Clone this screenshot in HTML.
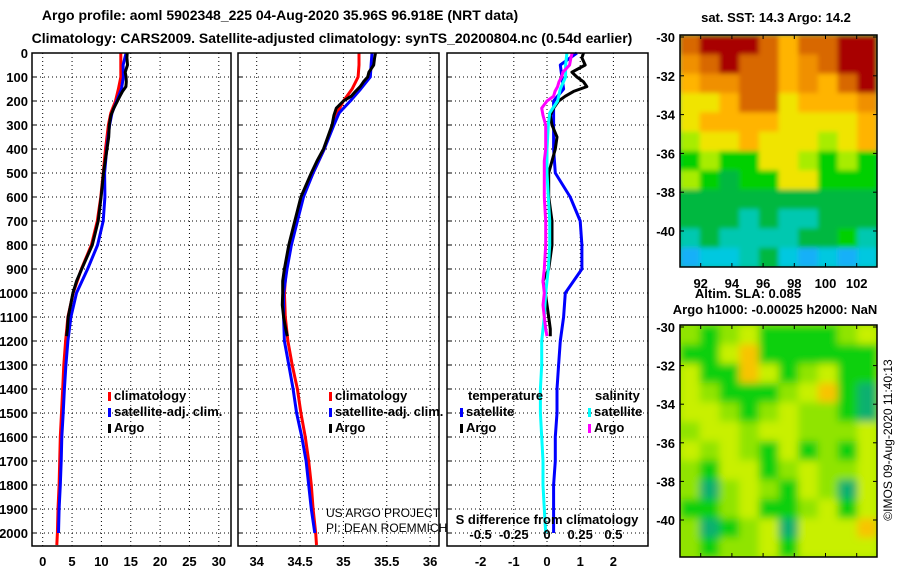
<!DOCTYPE html>
<html><head><meta charset="utf-8"><style>
html,body{margin:0;padding:0;background:#fff;}
svg{display:block;font-family:"Liberation Sans",sans-serif;}
.t{font-weight:bold;font-size:13px;}
.n{font-weight:normal;font-size:12px;}
</style></head><body>
<svg id="c" width="900" height="580" xmlns="http://www.w3.org/2000/svg"></svg>
<script>
// ---------- data ----------
const depths = [0,50,100,150,200,250,300,400,500,600,700,800,900,1000,1100,1200,1300,1400,1500,1600,1700,1800,1900,2000,2050];
const climT = [13.3,13.3,13.3,12.9,12.4,11.6,11.2,10.7,10.3,9.9,9.3,8.3,6.6,5.2,4.3,3.9,3.6,3.4,3.2,3.0,2.9,2.8,2.6,2.5,2.4];
const climS = [35.18,35.18,35.17,35.1,35.0,34.93,34.88,34.78,34.65,34.53,34.45,34.38,34.34,34.32,34.33,34.36,34.41,34.47,34.51,34.56,34.6,34.63,34.65,34.68,34.69];
const satTdiff = [0.9,0.4,0.45,0.5,0.2,0.2,0.2,0.2,0.25,0.7,1.0,1.05,1.05,0.55,0.5,0.4,0.35,0.3,0.3,0.25,0.25,0.2,0.2,0.2];
const satSdiff = [0.15,0.14,0.14,0.1,0.08,0.02,0.01,0.0,0.0,0.01,0.02,0.02,0.01,-0.01,-0.02,-0.04,-0.04,-0.05,-0.05,-0.04,-0.03,-0.03,-0.02,-0.01];
const argoDepths = [0,20,50,80,100,120,140,160,180,200,230,260,300,350,400,450,500,600,700,800,900,950,1000,1050,1100,1150,1180];
const argoTdiff = [1.1,1.05,1.15,0.75,0.9,1.1,1.2,0.8,0.55,0.35,0.2,0.1,0.15,0.3,0.25,0.15,0.05,0.05,0.15,0.15,0.05,-0.12,-0.05,0.0,0.05,0.1,0.1];
const argoSdiff = [0.19,0.18,0.17,0.12,0.11,0.09,0.08,0.06,0.05,0.0,-0.04,-0.03,-0.01,-0.01,-0.01,-0.02,-0.02,-0.02,-0.01,-0.01,-0.02,-0.03,-0.02,-0.03,-0.02,-0.01,0.0];
const depthTicks = [0,100,200,300,400,500,600,700,800,900,1000,1100,1200,1300,1400,1500,1600,1700,1800,1900,2000];
const tTicks = [0,5,10,15,20,25,30];
const sTicks = [34,34.5,35,35.5,36];
const dTTicks = [-2,-1,0,1,2];
const dSTicks = [-0.5,-0.25,0,0.25,0.5];
const latTicks = [-30,-32,-34,-36,-38,-40];
const lonTicks = [92,94,96,98,100,102];

// ---------- scales ----------
const yD = d => 53 + d*0.24;
const xT = t => 42.7 + t*5.87;
const xS = s => 256.7 + (s-34)*86.7;
const xdT = v => 547 + v*33.2;
const xdS = v => 547 + v*132.8;
const P = [{x0:32,x1:231},{x0:238,x1:439},{x0:447,x1:648}];
const TOP=53, BOT=546;

const svg = document.getElementById('c');
const NS='http://www.w3.org/2000/svg';
function mk(tag, attrs, parent){const e=document.createElementNS(NS,tag);for(const k in attrs)e.setAttribute(k,attrs[k]);(parent||svg).appendChild(e);return e;}
function txt(x,y,s,anchor,cls,parent,extra){const e=mk('text',Object.assign({x:x,y:y,'text-anchor':anchor||'start',class:cls||'t'},extra||{}),parent);e.textContent=s;return e;}
function interp(arrD,arrV,d){for(let i=0;i<arrD.length-1;i++){if(d>=arrD[i]&&d<=arrD[i+1]){const f=(d-arrD[i])/(arrD[i+1]-arrD[i]);return arrV[i]+f*(arrV[i+1]-arrV[i]);}}return arrV[arrV.length-1];}

let e;
e=txt(280,20,'Argo profile: aoml 5902348_225 04-Aug-2020 35.96S 96.918E (NRT data)','middle','t');


e.setAttribute('style','font-size:14px');
e=txt(332,43,'Climatology: CARS2009. Satellite-adjusted climatology: synTS_20200804.nc (0.54d earlier)','middle','t');


e.setAttribute('style','font-size:14px');

P.forEach((p,i)=>{
  const g=mk('g',{});
  
  
  depthTicks.forEach(d=>{
    mk('line',{x1:p.x0,x2:p.x1,y1:yD(d),y2:yD(d),stroke:'#000','stroke-width':1,'stroke-dasharray':'1,3'},g);
    mk('line',{x1:p.x0,x2:p.x0+5,y1:yD(d),y2:yD(d),stroke:'#000','stroke-width':1},g);
  });
  const vt = i===0?tTicks.map(xT):i===1?sTicks.map(xS):dTTicks.map(xdT);
  vt.forEach(x=>{mk('line',{x1:x,x2:x,y1:TOP,y2:BOT,stroke:'#000','stroke-width':1,'stroke-dasharray':'1,3'},g);});
});
depthTicks.forEach(d=>{
  const t=txt(28,yD(d)+5,String(d),'end','t');
  
  
});
tTicks.forEach(v=>{const t=txt(xT(v),566,String(v),'middle','t');});
sTicks.forEach(v=>{const t=txt(xS(v),566,String(v),'middle','t');});
dTTicks.forEach(v=>{const t=txt(xdT(v),566,String(v),'middle','t');});

function line(pts,color,name,w){
  const pl=mk('polyline',{points:pts.map(p=>p[0].toFixed(1)+','+p[1].toFixed(1)).join(' '),fill:'none',stroke:color,'stroke-width':w||3,'stroke-linejoin':'round'});
  
  
}
const satD = depths.slice(0,satTdiff.length);
line(depths.map((d,i)=>[xT(climT[i]),yD(d)]),'#ff0000','temp-climatology-line');
line(satD.map((d,i)=>[xT(climT[i]+satTdiff[i]),yD(d)]),'#0000ff','temp-satellite-line');
line(argoDepths.map((d,i)=>[xT(interp(depths,climT,d)+argoTdiff[i]),yD(d)]),'#000000','temp-argo-line');
line(depths.map((d,i)=>[xS(climS[i]),yD(d)]),'#ff0000','sal-climatology-line');
line(satD.map((d,i)=>[xS(climS[i]+satSdiff[i]),yD(d)]),'#0000ff','sal-satellite-line');
line(argoDepths.map((d,i)=>[xS(interp(depths,climS,d)+argoSdiff[i]),yD(d)]),'#000000','sal-argo-line');
line(satD.map((d,i)=>[xdT(satTdiff[i]),yD(d)]),'#0000ff','temp-diff-satellite-line');
line(argoDepths.map((d,i)=>[xdT(argoTdiff[i]),yD(d)]),'#000000','temp-diff-argo-line');
line(satD.map((d,i)=>[xdS(satSdiff[i]),yD(d)]),'#00ffff','sal-diff-satellite-line');
line(argoDepths.map((d,i)=>[xdS(argoSdiff[i]),yD(d)]),'#ff00ff','sal-diff-argo-line');

P.forEach((p,i)=>{
  const r=mk('rect',{x:p.x0,y:TOP,width:p.x1-p.x0,height:BOT-TOP,fill:'none',stroke:'#000','stroke-width':1.5});
  
  
});

function legItem(x,y,color,label,name){
  const g=mk('g',{});
  
  
  mk('rect',{x:x,y:y-8,width:3,height:9,fill:color},g);
  txt(x+6,y,label,'start','t',g);
}
[[108,'#ff0000','climatology'],[108,'#0000ff','satellite-adj. clim.'],[108,'#000','Argo']].forEach((l,i)=>legItem(l[0],400+i*16,l[1],l[2],'temp-legend-entry'));
[[329,'#ff0000','climatology'],[329,'#0000ff','satellite-adj. clim.'],[329,'#000','Argo']].forEach((l,i)=>legItem(l[0],400+i*16,l[1],l[2],'sal-legend-entry'));
e=txt(468,400,'temperature','start','t');
e=txt(595,400,'salinity','start','t');
legItem(460,416,'#0000ff','satellite','diff-legend-temp-satellite');
legItem(460,432,'#000','Argo','diff-legend-temp-argo');
legItem(588,416,'#00ffff','satellite','diff-legend-sal-satellite');
legItem(588,432,'#ff00ff','Argo','diff-legend-sal-argo');
e=txt(547,524,'S difference from climatology','middle','t');
dSTicks.forEach(v=>{const t=txt(xdS(v),539,String(v),'middle','t');});
e=txt(326,517,'US ARGO PROJECT','start','n');
e=txt(326,532,'PI: DEAN ROEMMICH','start','n');

// ---------- maps ----------
const sstGrid = [
'rRRRrOrrRR',
'orRrrOorRR',
'OoorrOoOrR',
'yyOrryOOOo',
'yOOOOyyyyO',
'lyyOyyylyO',
'glggyylglg',
'lgGggyyggg',
'GGGGGGGGGG',
'GGGtGttGGG',
'tGttttGGgt',
'bcctGcbcbc'];
const sstColors = {R:'#a80000',r:'#d86800',o:'#f09000',O:'#ffb400',y:'#f0e400',l:'#a8ec00',g:'#00d000',G:'#00b840',t:'#00c8b0',c:'#00c8e0',b:'#18b0f8'};
const slaGrid = [
'LGLYGGGGLY',
'GGYOGGGGGG',
'YGGOYGLYGG',
'YLGGGLYOGT',
'YYLGLYLLGT',
'LYYLYYLLLY',
'YLYLGYGLGY',
'LGYYGLYLLY',
'LTLYLGYLTY',
'GGLYGGLYGY',
'LTGLYTYYYO',
'LGLLYGYYYY'];
const slaColors = {Y:'#c8f000',L:'#90e400',G:'#10d010',T:'#10b070',O:'#f8c400'};
const defs=mk('defs',{});
const f=mk('filter',{id:'bl',x:'-10%',y:'-10%',width:'120%',height:'120%'},defs);
mk('feGaussianBlur',{stdDeviation:4},f);
const f2=mk('filter',{id:'bl1',x:'-5%',y:'-5%',width:'110%',height:'110%'},defs);
mk('feGaussianBlur',{stdDeviation:2.5},f2);
const cp=mk('clipPath',{id:'cp2'},defs);
mk('rect',{x:680,y:325,width:197,height:232},cp);
const cp1=mk('clipPath',{id:'cp1'},defs);
mk('rect',{x:680,y:35,width:197,height:232},cp1);

function drawMap(grid,colors,top,name,filt,clip,base,yLat){
  const g=mk('g',{'clip-path':'url(#'+clip+')'});
  
  
  const inner=mk('g',{filter:'url(#'+filt+')'},g);
  const cw=197/10,ch=232/12;
  mk('rect',{x:670,y:top-10,width:217,height:252,fill:base},inner);
  grid.forEach((row,r)=>{[...row].forEach((k,c)=>{mk('rect',{x:680+c*cw,y:top+r*ch,width:cw+0.5,height:ch+0.5,fill:colors[k]},inner);});});
  mk('rect',{x:680,y:top,width:197,height:232,fill:'none',stroke:'#000','stroke-width':1.5});
  latTicks.forEach(l=>{
    const y=yLat(l);
    mk('line',{x1:680,x2:684,y1:y,y2:y,stroke:'#000'});
    mk('line',{x1:873,x2:877,y1:y,y2:y,stroke:'#000'});
    const t=txt(675,y+5,String(l),'end','t');
    
    
  });
  lonTicks.forEach(l=>{
    const x=700.7+(l-92)*15.6;
    mk('line',{x1:x,x2:x,y1:top,y2:top+4,stroke:'#000'});
    mk('line',{x1:x,x2:x,y1:top+228,y2:top+232,stroke:'#000'});
  });
}
drawMap(sstGrid,sstColors,35,'sst-map','bl1','cp1','#00b840',l=>37+(-30-l)*19.4);
lonTicks.forEach(l=>{const t=txt(700.7+(l-92)*15.6,288,String(l),'middle','t');});
drawMap(slaGrid,slaColors,325,'sla-map','bl','cp2','#90e400',l=>327+(-30-l)*19.3);
e=txt(776,22,'sat. SST: 14.3 Argo: 14.2','middle','t');
e=txt(748,298,'Altim. SLA: 0.085','middle','t');
e=txt(775,314,'Argo h1000: -0.00025 h2000: NaN','middle','t');
e=txt(0,0,'©IMOS 09-Aug-2020 11:40:13','middle','n',null,{'font-size':'13',transform:'translate(892,440) rotate(-90)'});


</script>
</body></html>
